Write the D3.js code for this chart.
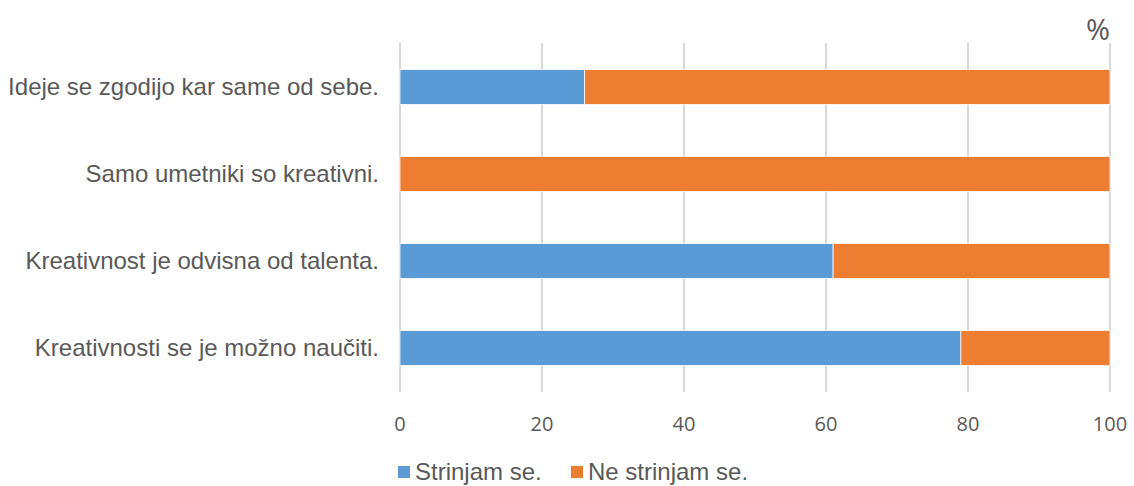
<!DOCTYPE html>
<html lang="en">
<head>
  <meta charset="UTF-8">
  <title>Kreativnost</title>
  <script src="https://d3js.org/d3.v7.min.js"></script>
  <style>
    body { margin: 0; background: #fff; }
    svg text { fill: #595959; }
  </style>
</head>
<body>
<svg width="1134" height="486"></svg>
<script>
const categories = [
  "Ideje se zgodijo kar same od sebe.",
  "Samo umetniki so kreativni.",
  "Kreativnost je odvisna od talenta.",
  "Kreativnosti se je možno naučiti."
];
const agree = [26, 0, 61, 79];
const disagree = [74, 100, 39, 21];
const seriesNames = ["Strinjam se.", "Ne strinjam se."];
const colors = ["#5b9bd5", "#ed7d31"];
const xTicks = [0, 20, 40, 60, 80, 100];

const svg = d3.select("svg");
const x = d3.scaleLinear().domain([0, 100]).range([400, 1110]);
const y = d3.scaleBand().domain(categories).range([43.5, 391.5])
  .paddingInner(0.6).paddingOuter(0.3);

// gridlines
svg.append("g").selectAll("line").data(xTicks).enter().append("line")
  .attr("x1", d => x(d)).attr("x2", d => x(d))
  .attr("y1", 43).attr("y2", 392)
  .attr("stroke", "#d9d9d9").attr("stroke-width", 2);

const rows = categories.map((c, i) => ({ c, a: agree[i], d: disagree[i] }));

const bars = svg.append("g");
bars.selectAll("rect.a").data(rows).enter().append("rect")
  .attr("class", "a")
  .attr("x", d => x(0)).attr("width", d => x(d.a) - x(0))
  .attr("y", d => y(d.c)).attr("height", y.bandwidth())
  .attr("fill", colors[0]).attr("stroke", "#fff").attr("stroke-width", 0.75);
bars.selectAll("rect.d").data(rows).enter().append("rect")
  .attr("class", "d")
  .attr("x", d => x(d.a)).attr("width", d => x(d.a + d.d) - x(d.a))
  .attr("y", d => y(d.c)).attr("height", y.bandwidth())
  .attr("fill", colors[1]).attr("stroke", "#fff").attr("stroke-width", 0.75);

// category labels
svg.append("g").selectAll("text").data(categories).enter().append("text")
  .attr("x", 379).attr("y", d => y(d) + y.bandwidth() / 2)
  .attr("dy", "0.35em").attr("text-anchor", "end")
  .style("font-family", "'Liberation Sans', Arial, sans-serif")
  .style("font-size", "24px")
  .text(d => d);

// x tick labels
svg.append("g").selectAll("text").data(xTicks).enter().append("text")
  .attr("x", d => x(d)).attr("y", 431)
  .attr("text-anchor", "middle")
  .style("font-family", "'Open Sans', sans-serif")
  .style("font-size", "20px")
  .text(d => d);

// unit
svg.append("text").attr("x", 1110).attr("y", 40).attr("text-anchor", "end")
  .style("font-family", "'Open Sans', sans-serif").style("font-size", "29px")
  .text("%");

// legend
const legendX = [398, 571];
const lg = svg.append("g").selectAll("g").data(seriesNames).enter().append("g")
  .attr("transform", (d, i) => `translate(${legendX[i]},466)`);
lg.append("rect").attr("width", 12).attr("height", 12)
  .attr("fill", (d, i) => colors[i]);
lg.append("text").attr("x", 17).attr("y", 6).attr("dy", "0.35em")
  .style("font-family", "'Liberation Sans', Arial, sans-serif")
  .style("font-size", "24px")
  .text(d => d);
</script>
</body>
</html>
